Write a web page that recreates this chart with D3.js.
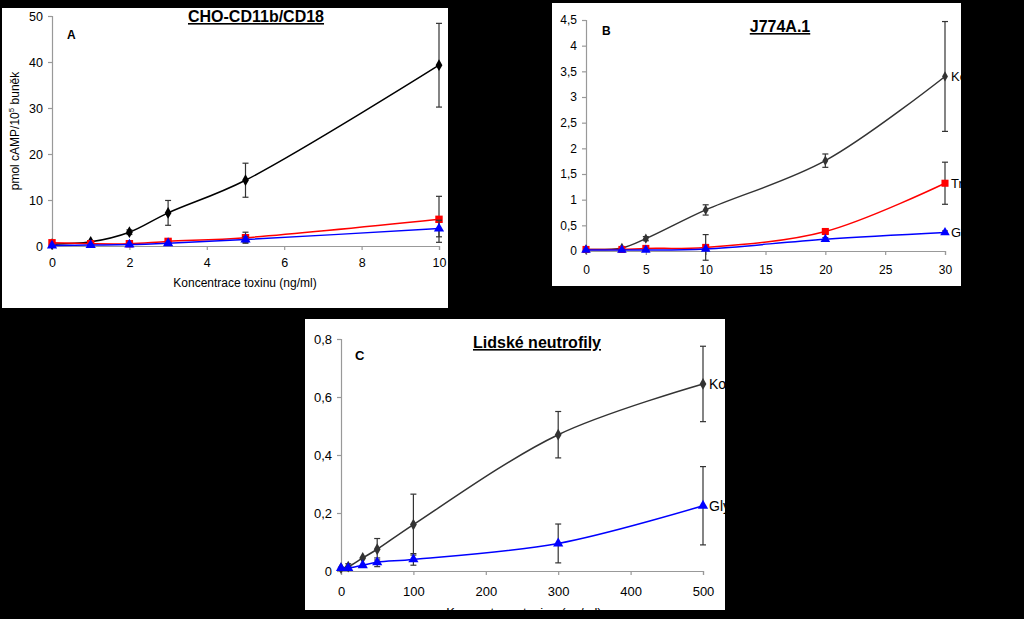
<!DOCTYPE html>
<html><head><meta charset="utf-8">
<script src="https://cdn.jsdelivr.net/npm/d3@7"></script>
<style>body{margin:0;background:#000;}svg{display:block;}</style>
</head><body>
<script>
// ---------- Data ----------
// Panel A: CHO-CD11b/CD18
const aX = [0, 1, 2, 3, 5, 10];
const aKontrola = [0.4, 0.9, 3.0, 7.2, 14.3, 39.3];
const aKontrolaErr = [0.2, 0.3, 0.5, 2.7, 3.7, 9.1];
const aRed = [0.7, 0.5, 0.5, 1.0, 1.8, 5.8];
const aRedErr = [0.2, 0.2, 0.2, 0.4, 1.2, 5.0];
const aBlue = [0.1, 0.2, 0.3, 0.6, 1.4, 3.8];
const aBlueErr = [0.1, 0.1, 0.2, 0.3, 0.6, 1.8];
const aYTicks = [0, 10, 20, 30, 40, 50];
const aXTicks = [0, 2, 4, 6, 8, 10];

// Panel B: J774A.1
const bX = [0, 3, 5, 10, 20, 30];
const bKontrola = [0.03, 0.06, 0.24, 0.80, 1.76, 3.40];
const bKontrolaErr = [0.01, 0.02, 0.04, 0.10, 0.13, 1.07];
const bRed = [0.03, 0.03, 0.05, 0.07, 0.38, 1.32];
const bRedErr = [0.01, 0.01, 0.02, 0.25, 0.03, 0.41];
const bBlue = [0.02, 0.02, 0.02, 0.04, 0.23, 0.36];
const bBlueErr = [0.01, 0.01, 0.01, 0.01, 0.03, 0.03];
const bYTicks = [0, 0.5, 1, 1.5, 2, 2.5, 3, 3.5, 4, 4.5];
const bXTicks = [0, 5, 10, 15, 20, 25, 30];

// Panel C: Lidské neutrofily
const cX = [0, 10, 30, 50, 100, 300, 500];
const cKontrola = [0.01, 0.015, 0.045, 0.075, 0.16, 0.47, 0.645];
const cKontrolaErr = [0.005, 0.01, 0.005, 0.037, 0.105, 0.08, 0.13];
const cBlue = [0.01, 0.01, 0.02, 0.03, 0.04, 0.095, 0.225];
const cBlueErr = [0.005, 0.005, 0.005, 0.015, 0.02, 0.067, 0.135];
const cYTicks = [0, 0.2, 0.4, 0.6, 0.8];
const cXTicks = [0, 100, 200, 300, 400, 500];

const seriesLabels = ["Kontrola", "Truncated", "Gly"];

// ---------- Drawing ----------
const W = 1024, H = 619;
const svg = d3.select("body").append("svg").attr("width", W).attr("height", H);
svg.append("rect").attr("width", W).attr("height", H).attr("fill", "#000");

const FONT = "'Liberation Sans', Arial, sans-serif";
const fmtComma = d => String(d).replace(".", ",");

let clipId = 0;
function panel(cfg) {
  const id = "clip" + (clipId++);
  svg.append("clipPath").attr("id", id).append("rect")
    .attr("x", cfg.box[0]).attr("y", cfg.box[1])
    .attr("width", cfg.box[2] - cfg.box[0]).attr("height", cfg.box[3] - cfg.box[1]);
  svg.append("rect").attr("x", cfg.box[0]).attr("y", cfg.box[1])
    .attr("width", cfg.box[2] - cfg.box[0]).attr("height", cfg.box[3] - cfg.box[1])
    .attr("fill", "#fff");
  const g = svg.append("g").attr("clip-path", `url(#${id})`);
  const x = d3.scaleLinear().domain(cfg.xDomain).range(cfg.xRange);
  const y = d3.scaleLinear().domain(cfg.yDomain).range(cfg.yRange);

  // axes
  const yAx = g.append("g").attr("transform", `translate(${cfg.xRange[0]},0)`)
    .call(d3.axisLeft(y).tickValues(cfg.yTicks).tickFormat(cfg.fmt).tickSize(4).tickPadding(5));
  const xAx = g.append("g").attr("transform", `translate(0,${cfg.yRange[0]})`)
    .call(d3.axisBottom(x).tickValues(cfg.xTicks).tickFormat(cfg.fmt).tickSize(4).tickPadding(cfg.xPad));
  [yAx, xAx].forEach(a => {
    a.select(".domain").attr("stroke", "#999").attr("stroke-width", 1.2);
    a.selectAll(".tick line").attr("stroke", "#999").attr("stroke-width", 1.2);
    a.selectAll(".tick text").attr("font-family", FONT).attr("font-size", cfg.tickFont).attr("fill", "#000");
  });

  const line = d3.line().curve(d3.curveCatmullRom.alpha(0.5));

  cfg.series.forEach(s => {
    const pts = cfg.xs.map((xv, i) => [x(xv), y(s.v[i])]);
    // error bars
    const eg = g.append("g");
    cfg.xs.forEach((xv, i) => {
      const e = s.e[i];
      const y1 = y(s.v[i] + e), y2 = y(s.v[i] - e);
      if (Math.abs(y2 - y1) < 3) return;
      const px = x(xv);
      eg.append("line").attr("x1", px).attr("x2", px).attr("y1", y1).attr("y2", y2)
        .attr("stroke", s.errColor).attr("stroke-width", 1.2);
      [y1, y2].forEach(yy => eg.append("line").attr("x1", px - 3).attr("x2", px + 3)
        .attr("y1", yy).attr("y2", yy).attr("stroke", s.errColor).attr("stroke-width", 1.2));
    });
    g.append("path").attr("d", line(pts)).attr("fill", "none")
      .attr("stroke", s.color).attr("stroke-width", 1.5);
    pts.forEach(p => {
      g.append("path").attr("transform", `translate(${p[0]},${p[1]})`)
        .attr("d", d3.symbol().type(s.shape).size(s.size)())
        .attr("fill", s.color);
    });
    if (s.label) {
      const last = pts[pts.length - 1];
      g.append("text").attr("x", last[0] + 6).attr("y", last[1]).attr("dy", "0.35em")
        .attr("font-family", FONT).attr("font-size", cfg.tickFont + 1).text(s.label);
    }
  });

  // title
  g.append("text").attr("x", cfg.title[1]).attr("y", cfg.title[2])
    .attr("text-anchor", "middle").attr("font-family", FONT).attr("font-weight", "bold")
    .attr("font-size", cfg.title[3]).attr("text-decoration", "underline").text(cfg.title[0]);
  g.append("text").attr("x", cfg.letter[1]).attr("y", cfg.letter[2])
    .attr("font-family", FONT).attr("font-weight", "bold").attr("font-size", cfg.letter[3])
    .text(cfg.letter[0]);
  if (cfg.xLabel) {
    g.append("text").attr("x", cfg.xLabel[1]).attr("y", cfg.xLabel[2]).attr("text-anchor", "middle")
      .attr("font-family", FONT).attr("font-size", cfg.xLabel[3]).text(cfg.xLabel[0]);
  }
  if (cfg.yLabel) {
    const yl = g.append("text").attr("transform", `translate(${cfg.yLabel[0]},${cfg.yLabel[1]}) rotate(-90)`)
      .attr("text-anchor", "middle").attr("font-family", FONT).attr("font-size", 12);
    yl.append("tspan").text("pmol cAMP/10");
    yl.append("tspan").attr("font-size", 8).attr("dy", -5).text("5");
    yl.append("tspan").attr("dy", 5).text(" buněk");
  }
  return g;
}

// Panel A
panel({
  box: [2, 8, 448, 308],
  xDomain: [0, 10], xRange: [52, 439],
  yDomain: [0, 50], yRange: [246, 16],
  xs: aX, yTicks: aYTicks, xTicks: aXTicks, fmt: d => d, tickFont: 12.5, xPad: 8,
  series: [
    {v: aKontrola, e: aKontrolaErr, color: "#000", errColor: "#333", shape: d3.symbolDiamond, size: 40},
    {v: aRed, e: aRedErr, color: "#f00", errColor: "#333", shape: d3.symbolSquare, size: 55},
    {v: aBlue, e: aBlueErr, color: "#00f", errColor: "#333", shape: d3.symbolTriangle, size: 45}
  ],
  title: ["CHO-CD11b/CD18", 256, 22, 16],
  letter: ["A", 67, 39, 12],
  xLabel: ["Koncentrace toxinu (ng/ml)", 245, 287, 12],
  yLabel: [19, 131]
});

// Panel B
panel({
  box: [552, 3, 961, 286],
  xDomain: [0, 30], xRange: [586, 945],
  yDomain: [0, 4.5], yRange: [251, 20],
  xs: bX, yTicks: bYTicks, xTicks: bXTicks, fmt: fmtComma, tickFont: 12, xPad: 10,
  series: [
    {v: bKontrola, e: bKontrolaErr, color: "#333", errColor: "#333", shape: d3.symbolDiamond, size: 30, label: seriesLabels[0]},
    {v: bRed, e: bRedErr, color: "#f00", errColor: "#333", shape: d3.symbolSquare, size: 50, label: seriesLabels[1]},
    {v: bBlue, e: bBlueErr, color: "#00f", errColor: "#333", shape: d3.symbolTriangle, size: 40, label: seriesLabels[2]}
  ],
  title: ["J774A.1", 780, 32, 16],
  letter: ["B", 602, 35, 12]
});

// Panel C
panel({
  box: [305, 319, 725, 610],
  xDomain: [0, 500], xRange: [341, 703],
  yDomain: [0, 0.8], yRange: [571, 339],
  xs: cX, yTicks: cYTicks, xTicks: cXTicks, fmt: fmtComma, tickFont: 13, xPad: 12,
  series: [
    {v: cKontrola, e: cKontrolaErr, color: "#333", errColor: "#333", shape: d3.symbolDiamond, size: 40, label: seriesLabels[0]},
    {v: cBlue, e: cBlueErr, color: "#00f", errColor: "#333", shape: d3.symbolTriangle, size: 45, label: seriesLabels[2]}
  ],
  title: ["Lidské neutrofily", 537, 348, 16],
  letter: ["C", 355, 360, 13],
  xLabel: ["Koncentrace toxinu (ng/ml)", 524, 617, 13]
});
</script>
</body></html>
